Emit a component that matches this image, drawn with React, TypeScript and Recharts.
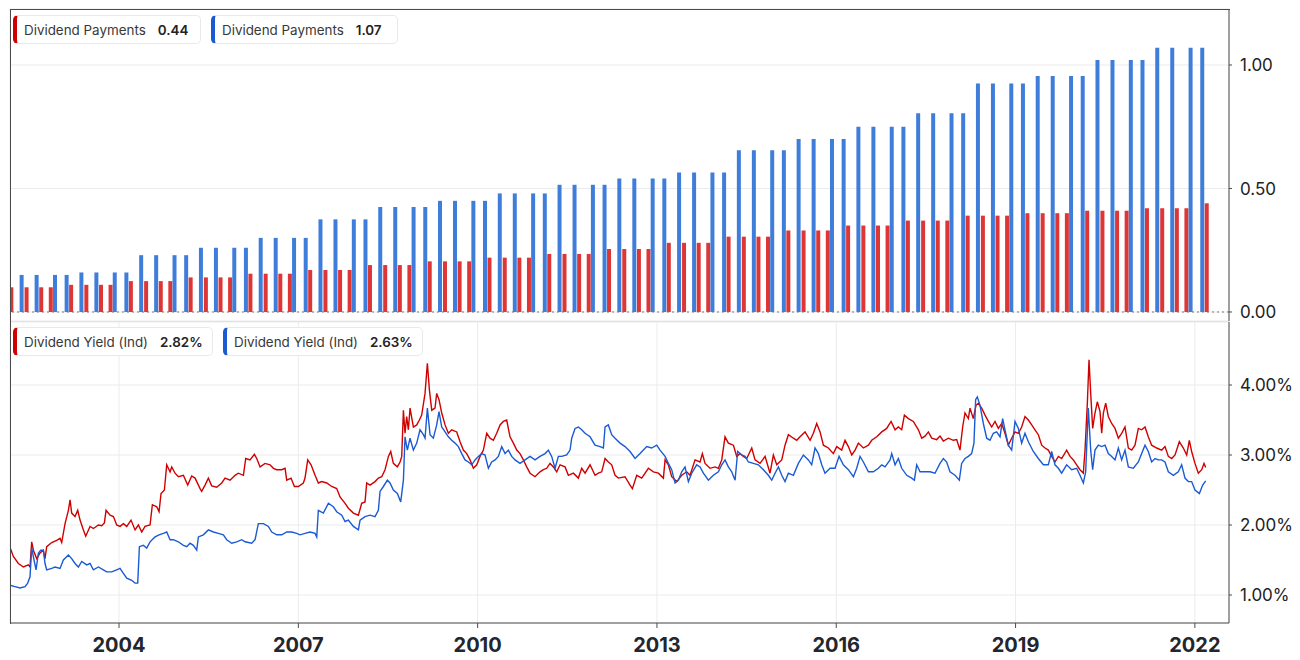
import {
  ComposedChart,
  Bar,
  Cell,
  Line,
  XAxis,
  YAxis,
  CartesianGrid,
  ReferenceLine,
} from "recharts";

const RED_BAR = "#de3535";
const BLUE_BAR = "#3f7ddb";
const RED_LINE = "#d00000";
const BLUE_LINE = "#1a5bd3";

const yearTicks = [2004, 2007, 2010, 2013, 2016, 2019, 2022];
const paymentTicks = [0, 0.5, 1];
const yieldTicks = [1, 2, 3, 4];

// dates as decimal years
const redPaymentDates = [
  2002.2, 2002.455, 2002.7, 2002.86,
  2003.2, 2003.455, 2003.7, 2003.86,
  2004.2, 2004.455, 2004.7, 2004.86,
  2005.2, 2005.455, 2005.7, 2005.86,
  2006.2, 2006.455, 2006.7, 2006.86,
  2007.2, 2007.455, 2007.7, 2007.86,
  2008.2, 2008.455, 2008.7, 2008.86,
  2009.2, 2009.455, 2009.7, 2009.86,
  2010.2, 2010.455, 2010.7, 2010.86,
  2011.2, 2011.455, 2011.7, 2011.86,
  2012.2, 2012.455, 2012.7, 2012.86,
  2013.2, 2013.455, 2013.7, 2013.86,
  2014.2, 2014.455, 2014.7, 2014.86,
  2015.2, 2015.455, 2015.7, 2015.86,
  2016.2, 2016.455, 2016.7, 2016.86,
  2017.2, 2017.455, 2017.7, 2017.86,
  2018.2, 2018.455, 2018.7, 2018.86,
  2019.2, 2019.455, 2019.7, 2019.86,
  2020.2, 2020.455, 2020.7, 2020.86,
  2021.2, 2021.455, 2021.7, 2021.86,
  2022.2,
];
const redPaymentValues = [
  0.1, 0.1, 0.1, 0.1,
  0.11, 0.11, 0.11, 0.11,
  0.125, 0.125, 0.125, 0.125,
  0.14, 0.14, 0.14, 0.14,
  0.155, 0.155, 0.155, 0.155,
  0.17, 0.17, 0.17, 0.17,
  0.19, 0.19, 0.19, 0.19,
  0.205, 0.205, 0.205, 0.205,
  0.22, 0.22, 0.22, 0.22,
  0.235, 0.235, 0.235, 0.235,
  0.255, 0.255, 0.255, 0.255,
  0.28, 0.28, 0.28, 0.28,
  0.305, 0.305, 0.305, 0.305,
  0.33, 0.33, 0.33, 0.33,
  0.35, 0.35, 0.35, 0.35,
  0.37, 0.37, 0.37, 0.37,
  0.39, 0.39, 0.39, 0.39,
  0.4, 0.4, 0.4, 0.4,
  0.41, 0.41, 0.41, 0.41,
  0.42, 0.42, 0.42, 0.42,
  0.44,
];

const bluePaymentDates = [
  2002.372, 2002.623, 2002.93, 2003.125,
  2003.372, 2003.623, 2003.93, 2004.125,
  2004.372, 2004.623, 2004.93, 2005.125,
  2005.372, 2005.623, 2005.93, 2006.125,
  2006.372, 2006.623, 2006.93, 2007.125,
  2007.372, 2007.623, 2007.93, 2008.125,
  2008.372, 2008.623, 2008.93, 2009.125,
  2009.372, 2009.623, 2009.93, 2010.125,
  2010.372, 2010.623, 2010.93, 2011.125,
  2011.372, 2011.623, 2011.93, 2012.125,
  2012.372, 2012.623, 2012.93, 2013.125,
  2013.372, 2013.623, 2013.93, 2014.125,
  2014.372, 2014.623, 2014.93, 2015.125,
  2015.372, 2015.623, 2015.93, 2016.125,
  2016.372, 2016.623, 2016.93, 2017.125,
  2017.372, 2017.623, 2017.93, 2018.125,
  2018.372, 2018.623, 2018.93, 2019.125,
  2019.372, 2019.623, 2019.93, 2020.125,
  2020.372, 2020.623, 2020.93, 2021.125,
  2021.372, 2021.623, 2021.93, 2022.125,
];
const bluePaymentValues = [
  0.15, 0.15, 0.15, 0.15,
  0.16, 0.16, 0.16, 0.16,
  0.23, 0.23, 0.23, 0.23,
  0.26, 0.26, 0.26, 0.26,
  0.3, 0.3, 0.3, 0.3,
  0.375, 0.375, 0.375, 0.375,
  0.425, 0.425, 0.425, 0.425,
  0.45, 0.45, 0.45, 0.45,
  0.48, 0.48, 0.48, 0.48,
  0.515, 0.515, 0.515, 0.515,
  0.54, 0.54, 0.54, 0.54,
  0.565, 0.565, 0.565, 0.565,
  0.655, 0.655, 0.655, 0.655,
  0.7, 0.7, 0.7, 0.7,
  0.75, 0.75, 0.75, 0.75,
  0.805, 0.805, 0.805, 0.805,
  0.925, 0.925, 0.925, 0.925,
  0.955, 0.955, 0.955, 0.955,
  1.02, 1.02, 1.02, 1.02,
  1.07, 1.07, 1.07, 1.07,
];

// [decimal year, yield %]
const redYield: [number, number][] = [
  [2002.177,1.68],[2002.232,1.55],[2002.316,1.45],[2002.4,1.4],[2002.483,1.43],[2002.511,1.4],[2002.539,1.76],[2002.567,1.64],
  [2002.623,1.52],[2002.679,1.6],[2002.734,1.64],[2002.762,1.52],[2002.79,1.69],[2002.874,1.75],[2002.957,1.78],[2003.013,1.81],
  [2003.041,1.75],[2003.097,2.02],[2003.153,2.21],[2003.181,2.36],[2003.208,2.17],[2003.264,2.12],[2003.309,2.21],[2003.348,2.07],
  [2003.404,1.93],[2003.443,1.84],[2003.515,1.98],[2003.571,1.95],[2003.655,2.0],[2003.71,1.99],[2003.755,2.03],[2003.783,2.21],
  [2003.85,2.14],[2003.906,2.12],[2003.961,2.0],[2004.017,1.98],[2004.073,2.02],[2004.129,1.98],[2004.201,2.07],[2004.268,1.93],
  [2004.324,2.0],[2004.38,1.9],[2004.435,1.98],[2004.519,2.0],[2004.558,2.29],[2004.631,2.26],[2004.67,2.19],[2004.703,2.45],
  [2004.759,2.5],[2004.798,2.86],[2004.854,2.76],[2004.882,2.83],[2004.937,2.74],[2004.993,2.69],[2005.077,2.71],[2005.149,2.57],
  [2005.216,2.7],[2005.272,2.67],[2005.356,2.52],[2005.383,2.48],[2005.439,2.57],[2005.495,2.67],[2005.551,2.56],[2005.634,2.54],
  [2005.718,2.6],[2005.774,2.67],[2005.858,2.64],[2005.941,2.71],[2005.997,2.74],[2006.081,2.71],[2006.12,2.95],[2006.192,2.93],
  [2006.265,3.01],[2006.304,2.95],[2006.36,2.83],[2006.443,2.88],[2006.527,2.86],[2006.583,2.81],[2006.638,2.79],[2006.722,2.79],
  [2006.778,2.81],[2006.806,2.64],[2006.878,2.67],[2006.934,2.55],[2007.001,2.55],[2007.084,2.6],[2007.112,2.67],[2007.157,2.93],
  [2007.213,2.86],[2007.28,2.71],[2007.335,2.6],[2007.391,2.62],[2007.475,2.6],[2007.559,2.55],[2007.642,2.52],[2007.698,2.4],
  [2007.782,2.31],[2007.837,2.24],[2007.921,2.17],[2008.005,2.14],[2008.06,2.31],[2008.116,2.33],[2008.144,2.6],[2008.2,2.57],
  [2008.283,2.62],[2008.339,2.67],[2008.395,2.69],[2008.451,2.79],[2008.507,2.98],[2008.546,3.05],[2008.59,2.88],[2008.657,2.83],
  [2008.702,2.9],[2008.73,2.98],[2008.758,3.64],[2008.785,3.31],[2008.813,3.55],[2008.841,3.36],[2008.869,3.67],[2008.925,3.4],
  [2008.981,3.43],[2009.025,3.5],[2009.064,3.57],[2009.12,3.88],[2009.159,4.31],[2009.193,3.93],[2009.232,3.64],[2009.287,3.67],
  [2009.315,3.88],[2009.354,3.79],[2009.399,3.6],[2009.455,3.43],[2009.51,3.31],[2009.566,3.36],[2009.65,3.33],[2009.706,3.19],
  [2009.761,3.07],[2009.817,3.02],[2009.873,2.93],[2009.929,2.81],[2009.985,2.86],[2010.04,2.98],[2010.096,3.07],[2010.152,3.31],
  [2010.208,3.24],[2010.263,3.21],[2010.319,3.31],[2010.375,3.43],[2010.431,3.48],[2010.486,3.5],[2010.542,3.26],[2010.598,3.17],
  [2010.654,3.07],[2010.709,3.02],[2010.765,2.93],[2010.821,2.83],[2010.877,2.74],[2010.96,2.69],[2011.044,2.76],[2011.1,2.79],
  [2011.156,2.81],[2011.211,2.88],[2011.267,2.83],[2011.323,2.76],[2011.379,2.86],[2011.462,2.83],[2011.518,2.71],[2011.602,2.74],
  [2011.685,2.67],[2011.741,2.81],[2011.797,2.74],[2011.881,2.86],[2011.964,2.71],[2012.02,2.74],[2012.076,2.76],[2012.132,2.95],
  [2012.187,2.9],[2012.243,2.86],[2012.299,2.71],[2012.355,2.67],[2012.466,2.69],[2012.55,2.57],[2012.589,2.52],[2012.662,2.71],
  [2012.745,2.67],[2012.857,2.81],[2012.94,2.76],[2013.024,2.74],[2013.108,2.67],[2013.136,2.93],[2013.191,2.86],[2013.247,2.69],
  [2013.331,2.62],[2013.414,2.71],[2013.498,2.76],[2013.554,2.71],[2013.637,2.93],[2013.721,2.9],[2013.76,3.02],[2013.805,2.88],
  [2013.888,2.81],[2013.972,2.83],[2014.028,2.81],[2014.084,2.93],[2014.139,3.26],[2014.195,3.17],[2014.279,3.14],[2014.335,2.98],
  [2014.39,3.02],[2014.446,2.98],[2014.502,2.95],[2014.586,3.1],[2014.641,2.93],[2014.725,2.88],[2014.809,2.98],[2014.892,2.74],
  [2014.948,3.0],[2015.004,2.86],[2015.088,2.93],[2015.143,3.14],[2015.199,3.29],[2015.283,3.24],[2015.338,3.21],[2015.394,3.26],
  [2015.478,3.33],[2015.562,3.21],[2015.617,3.31],[2015.673,3.45],[2015.729,3.33],[2015.785,3.14],[2015.868,3.1],[2015.952,3.02],
  [2016.008,3.12],[2016.091,3.07],[2016.147,3.21],[2016.203,3.12],[2016.259,3.0],[2016.315,3.07],[2016.37,3.17],[2016.454,3.1],
  [2016.538,3.14],[2016.593,3.21],[2016.677,3.26],[2016.761,3.33],[2016.844,3.38],[2016.917,3.48],[2016.984,3.36],[2017.039,3.4],
  [2017.095,3.36],[2017.14,3.57],[2017.207,3.52],[2017.29,3.48],[2017.374,3.36],[2017.43,3.24],[2017.485,3.27],[2017.541,3.33],
  [2017.597,3.24],[2017.68,3.22],[2017.736,3.27],[2017.792,3.2],[2017.875,3.24],[2017.959,3.21],[2018.015,3.22],[2018.07,3.07],
  [2018.115,3.4],[2018.154,3.6],[2018.21,3.52],[2018.238,3.67],[2018.293,3.52],[2018.338,3.71],[2018.377,3.74],[2018.433,3.67],
  [2018.489,3.57],[2018.545,3.48],[2018.6,3.4],[2018.656,3.48],[2018.712,3.38],[2018.768,3.45],[2018.823,3.31],[2018.879,3.14],
  [2018.935,3.24],[2018.991,3.33],[2019.047,3.31],[2019.102,3.4],[2019.158,3.55],[2019.214,3.5],[2019.27,3.43],[2019.325,3.36],
  [2019.381,3.29],[2019.437,3.14],[2019.493,3.1],[2019.548,3.07],[2019.604,2.98],[2019.66,2.9],[2019.716,2.98],[2019.771,2.95],
  [2019.855,3.07],[2019.911,2.98],[2019.967,2.93],[2020.022,2.86],[2020.078,2.79],[2020.134,2.74],[2020.162,3.07],[2020.201,3.74],
  [2020.229,4.36],[2020.257,3.88],[2020.29,3.38],[2020.329,3.6],[2020.368,3.76],[2020.413,3.62],[2020.441,3.31],[2020.469,3.6],
  [2020.508,3.74],[2020.552,3.55],[2020.608,3.45],[2020.664,3.38],[2020.72,3.24],[2020.775,3.31],[2020.831,3.4],[2020.887,3.1],
  [2020.943,3.07],[2020.998,3.14],[2021.054,3.38],[2021.11,3.36],[2021.166,3.4],[2021.221,3.26],[2021.277,3.14],[2021.361,3.1],
  [2021.445,3.07],[2021.5,3.12],[2021.556,2.98],[2021.612,2.95],[2021.668,3.0],[2021.74,3.19],[2021.807,3.1],[2021.863,3.0],
  [2021.907,3.21],[2021.946,3.05],[2022.002,2.88],[2022.058,2.74],[2022.114,2.79],[2022.153,2.88],[2022.181,2.82],
];

const blueYield: [number, number][] = [
  [2002.177,1.14],[2002.26,1.12],[2002.344,1.1],[2002.428,1.12],[2002.472,1.17],[2002.511,1.26],[2002.539,1.67],[2002.578,1.5],
  [2002.612,1.36],[2002.651,1.6],[2002.69,1.64],[2002.734,1.64],[2002.762,1.45],[2002.79,1.36],[2002.874,1.38],[2002.93,1.4],
  [2003.013,1.38],[2003.069,1.5],[2003.153,1.57],[2003.208,1.52],[2003.264,1.45],[2003.32,1.4],[2003.376,1.48],[2003.459,1.43],
  [2003.515,1.45],[2003.571,1.36],[2003.655,1.4],[2003.738,1.36],[2003.794,1.33],[2003.878,1.33],[2003.961,1.36],[2004.017,1.38],
  [2004.073,1.31],[2004.129,1.24],[2004.212,1.21],[2004.268,1.17],[2004.313,1.17],[2004.341,1.69],[2004.407,1.71],[2004.463,1.67],
  [2004.519,1.76],[2004.603,1.83],[2004.67,1.86],[2004.742,1.88],[2004.798,1.9],[2004.854,1.79],[2004.909,1.79],[2004.993,1.76],
  [2005.077,1.71],[2005.133,1.69],[2005.188,1.74],[2005.244,1.71],[2005.3,1.64],[2005.328,1.83],[2005.411,1.86],[2005.495,1.93],
  [2005.579,1.9],[2005.662,1.88],[2005.746,1.86],[2005.802,1.79],[2005.885,1.74],[2005.969,1.76],[2006.053,1.79],[2006.109,1.76],
  [2006.22,1.74],[2006.276,1.79],[2006.331,2.02],[2006.415,2.02],[2006.499,1.98],[2006.555,1.9],[2006.638,1.86],[2006.722,1.86],
  [2006.806,1.9],[2006.889,1.9],[2006.973,1.88],[2007.029,1.86],[2007.112,1.88],[2007.196,1.9],[2007.28,1.88],[2007.308,1.83],
  [2007.335,2.21],[2007.419,2.17],[2007.503,2.31],[2007.586,2.26],[2007.642,2.19],[2007.726,2.14],[2007.782,2.05],[2007.837,2.07],
  [2007.921,1.98],[2008.005,1.93],[2008.033,2.07],[2008.116,2.12],[2008.2,2.14],[2008.283,2.12],[2008.339,2.21],[2008.367,2.48],
  [2008.423,2.55],[2008.49,2.64],[2008.534,2.6],[2008.59,2.5],[2008.657,2.45],[2008.713,2.33],[2008.758,2.64],[2008.785,3.26],
  [2008.824,3.07],[2008.869,3.24],[2008.925,3.07],[2008.981,3.17],[2009.036,3.36],[2009.092,3.29],[2009.12,3.24],[2009.159,3.67],
  [2009.204,3.29],[2009.259,3.24],[2009.315,3.43],[2009.354,3.62],[2009.399,3.4],[2009.455,3.33],[2009.51,3.26],[2009.566,3.21],
  [2009.622,3.17],[2009.678,3.12],[2009.734,3.02],[2009.789,2.93],[2009.845,2.9],[2009.901,2.86],[2009.957,2.93],[2010.012,2.98],
  [2010.068,3.02],[2010.124,3.0],[2010.18,2.81],[2010.235,2.9],[2010.291,2.93],[2010.347,2.98],[2010.403,3.12],[2010.459,3.02],
  [2010.514,3.07],[2010.57,2.98],[2010.626,2.93],[2010.709,2.88],[2010.793,2.93],[2010.877,2.98],[2010.96,2.93],[2011.044,2.98],
  [2011.128,3.02],[2011.183,3.07],[2011.239,2.98],[2011.295,2.81],[2011.351,2.98],[2011.407,2.98],[2011.49,3.0],[2011.546,3.07],
  [2011.574,3.24],[2011.63,3.38],[2011.685,3.4],[2011.741,3.36],[2011.797,3.31],[2011.881,3.26],[2011.964,3.14],[2012.048,3.12],
  [2012.104,3.1],[2012.132,3.4],[2012.187,3.43],[2012.243,3.29],[2012.299,3.24],[2012.383,3.17],[2012.466,3.12],[2012.55,3.05],
  [2012.634,2.95],[2012.717,3.02],[2012.829,3.12],[2012.912,3.1],[2012.996,3.14],[2013.052,3.07],[2013.136,2.98],[2013.191,2.88],
  [2013.247,2.79],[2013.303,2.6],[2013.359,2.64],[2013.414,2.76],[2013.47,2.83],[2013.526,2.62],[2013.582,2.74],[2013.665,2.86],
  [2013.721,2.83],[2013.777,2.74],[2013.861,2.64],[2013.944,2.71],[2014.028,2.76],[2014.084,2.86],[2014.139,2.93],[2014.195,2.83],
  [2014.251,2.76],[2014.307,2.64],[2014.351,3.05],[2014.418,3.0],[2014.474,2.98],[2014.53,2.9],[2014.613,2.88],[2014.697,2.86],
  [2014.781,2.79],[2014.864,2.71],[2014.92,2.64],[2014.976,2.74],[2015.032,2.83],[2015.088,2.71],[2015.143,2.62],[2015.199,2.74],
  [2015.283,2.71],[2015.366,2.88],[2015.45,3.0],[2015.534,2.93],[2015.589,2.86],[2015.645,3.1],[2015.701,3.02],[2015.757,2.86],
  [2015.812,2.74],[2015.896,2.81],[2015.98,2.81],[2016.047,2.98],[2016.119,2.86],[2016.203,2.79],[2016.287,2.69],[2016.342,2.81],
  [2016.398,2.98],[2016.454,2.9],[2016.538,2.76],[2016.621,2.76],[2016.705,2.81],[2016.761,2.86],[2016.817,2.83],[2016.9,2.93],
  [2016.928,3.02],[2016.984,2.86],[2017.039,2.95],[2017.095,2.81],[2017.179,2.71],[2017.262,2.67],[2017.307,2.64],[2017.346,2.86],
  [2017.402,2.76],[2017.486,2.76],[2017.569,2.76],[2017.652,2.74],[2017.736,2.88],[2017.792,2.95],[2017.847,2.9],[2017.903,2.76],
  [2017.987,2.71],[2018.059,2.64],[2018.098,2.88],[2018.154,2.95],[2018.21,2.98],[2018.265,3.02],[2018.304,3.17],[2018.332,3.79],
  [2018.36,3.83],[2018.405,3.71],[2018.461,3.45],[2018.517,3.24],[2018.572,3.21],[2018.628,3.31],[2018.684,3.33],[2018.74,3.26],
  [2018.784,3.52],[2018.823,3.36],[2018.879,3.14],[2018.935,3.07],[2018.991,3.48],[2019.047,3.38],[2019.102,3.17],[2019.158,3.31],
  [2019.214,3.19],[2019.297,3.05],[2019.381,2.95],[2019.465,2.86],[2019.548,2.86],[2019.604,3.05],[2019.66,2.86],[2019.716,2.81],
  [2019.771,2.74],[2019.855,2.86],[2019.939,2.79],[2020.022,2.81],[2020.078,2.71],[2020.134,2.6],[2020.173,2.76],[2020.217,3.67],
  [2020.257,3.07],[2020.29,2.79],[2020.329,3.07],[2020.385,3.14],[2020.441,3.12],[2020.497,3.14],[2020.552,3.02],[2020.608,2.98],
  [2020.664,2.93],[2020.72,3.1],[2020.775,2.93],[2020.831,3.07],[2020.887,2.83],[2020.97,2.81],[2021.054,2.9],[2021.11,3.02],
  [2021.166,3.14],[2021.221,3.05],[2021.277,2.9],[2021.333,2.95],[2021.389,2.93],[2021.445,2.93],[2021.5,2.9],[2021.556,2.76],
  [2021.64,2.71],[2021.723,2.76],[2021.779,2.86],[2021.835,2.67],[2021.891,2.62],[2021.946,2.62],[2022.002,2.5],[2022.075,2.45],
  [2022.131,2.57],[2022.181,2.63],
];

const xDomain = [2002.176, 2022.571];

const barRows = [
  ...redPaymentDates.map((t, i) => ({ t, v: redPaymentValues[i], fill: RED_BAR })),
  ...bluePaymentDates.map((t, i) => ({ t, v: bluePaymentValues[i], fill: BLUE_BAR })),
].sort((a, b) => a.t - b.t);

const redYieldRows = redYield.map(([t, v]) => ({ t, v }));
const blueYieldRows = blueYield.map(([t, v]) => ({ t, v }));

const FRAME = "#4b4b4b";
const GRID = "#ebebeb";
const FONT = "Inter, 'Noto Sans', sans-serif";

const yTick = { fontSize: 17, fill: "#222", fontFamily: FONT };
const xTick = { fontSize: 20, fontWeight: 700, fill: "#23262d", fontFamily: FONT };

function LegendBox({
  left,
  top,
  width,
  color,
  label,
  value,
}: {
  left: number;
  top: number;
  width: number;
  color: string;
  label: string;
  value: string;
}) {
  return (
    <div
      style={{
        position: "absolute",
        left,
        top,
        width,
        height: 29,
        boxSizing: "border-box",
        display: "flex",
        alignItems: "center",
        background: "#fff",
        border: "1px solid #e9e9e9",
        borderLeft: `4px solid ${color}`,
        borderRadius: 5,
        paddingLeft: 7,
        fontFamily: FONT,
        fontSize: 13.4,
        color: "#383838",
        whiteSpace: "nowrap",
      }}
    >
      <span>{label}</span>
      <span style={{ marginLeft: 12, fontWeight: 600, color: "#222" }}>{value}</span>
    </div>
  );
}

export default function App() {
  const lastRedPay = redPaymentValues[redPaymentValues.length - 1];
  const lastBluePay = bluePaymentValues[bluePaymentValues.length - 1];
  const lastRedYield = redYield[redYield.length - 1][1];
  const lastBlueYield = blueYield[blueYield.length - 1][1];

  return (
    <div
      style={{
        position: "absolute",
        left: 0,
        top: 0,
        width: 1300,
        height: 660,
        background: "#fff",
        fontFamily: FONT,
      }}
    >
      <div style={{ position: "absolute", left: 0, top: 0 }}>
        <ComposedChart
          width={1300}
          height={322}
          data={barRows}
          margin={{ top: 9, right: 0, bottom: 1, left: 10 }}
        >
          <CartesianGrid stroke={GRID} />
          <XAxis
            dataKey="t"
            type="number"
            domain={xDomain}
            ticks={yearTicks}
            allowDataOverflow
            height={0}
            tick={false}
            tickLine={false}
            axisLine={false}
          />
          <YAxis
            orientation="right"
            width={71}
            domain={[-0.0365, 1.2267]}
            ticks={paymentTicks}
            allowDataOverflow
            tickFormatter={(v: number) => v.toFixed(2)}
            tick={yTick}
            tickSize={3}
            tickMargin={8}
            tickLine={{ stroke: FRAME }}
            axisLine={{ stroke: FRAME }}
          />
          <Bar dataKey="v" barSize={4} isAnimationActive={false}>
            {barRows.map((r, i) => (
              <Cell key={i} fill={r.fill} />
            ))}
          </Bar>
          <ReferenceLine y={0} stroke="#777" strokeDasharray="2 3" />
        </ComposedChart>
      </div>

      <div style={{ position: "absolute", left: 0, top: 322 }}>
        <ComposedChart
          width={1300}
          height={338}
          margin={{ top: 0, right: 0, bottom: 0, left: 10 }}
        >
          <CartesianGrid stroke={GRID} />
          <XAxis
            dataKey="t"
            type="number"
            domain={xDomain}
            ticks={yearTicks}
            allowDataOverflow
            height={37}
            tick={xTick}
            tickSize={5}
            tickMargin={10}
            tickLine={{ stroke: FRAME }}
            axisLine={{ stroke: FRAME }}
          />
          <YAxis
            orientation="right"
            width={71}
            domain={[0.6, 4.9]}
            ticks={yieldTicks}
            allowDataOverflow
            tickFormatter={(v: number) => `${v.toFixed(2)}%`}
            tick={yTick}
            tickSize={3}
            tickMargin={8}
            tickLine={{ stroke: FRAME }}
            axisLine={{ stroke: FRAME }}
          />
          <Line
            data={redYieldRows}
            dataKey="v"
            type="linear"
            stroke={RED_LINE}
            strokeWidth={1.4}
            dot={false}
            isAnimationActive={false}
          />
          <Line
            data={blueYieldRows}
            dataKey="v"
            type="linear"
            stroke={BLUE_LINE}
            strokeWidth={1.4}
            dot={false}
            isAnimationActive={false}
          />
        </ComposedChart>
      </div>

      {/* panel frame: left + top edges, and the light divider between panels */}
      <div
        style={{
          position: "absolute",
          left: 10,
          top: 9,
          width: 1219,
          height: 614,
          borderLeft: `1px solid ${FRAME}`,
          borderTop: `1px solid ${FRAME}`,
          pointerEvents: "none",
        }}
      />
      <div
        style={{
          position: "absolute",
          left: 11,
          top: 321,
          width: 1218,
          height: 1,
          background: "#e2e2e2",
        }}
      />

      <LegendBox left={13} top={15} width={188} color={RED_LINE} label="Dividend Payments" value={lastRedPay.toFixed(2)} />
      <LegendBox left={211} top={15} width={187} color={BLUE_LINE} label="Dividend Payments" value={lastBluePay.toFixed(2)} />
      <LegendBox left={13} top={327} width={200} color={RED_LINE} label="Dividend Yield (Ind)" value={`${lastRedYield.toFixed(2)}%`} />
      <LegendBox left={223} top={327} width={200} color={BLUE_LINE} label="Dividend Yield (Ind)" value={`${lastBlueYield.toFixed(2)}%`} />
    </div>
  );
}
